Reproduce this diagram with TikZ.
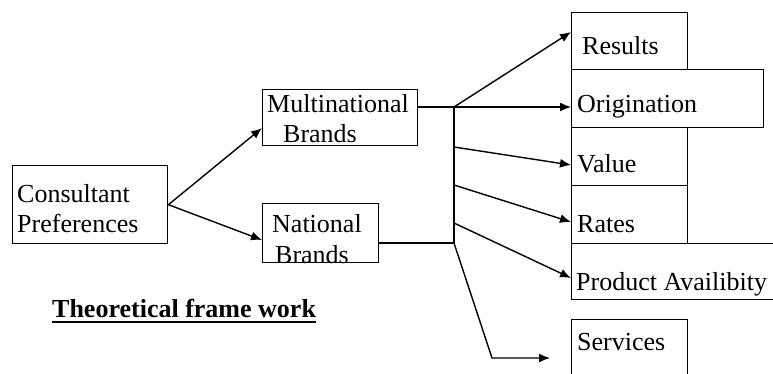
\documentclass[tikz,border=0pt]{standalone}
\usepackage{fontspec}
\setmainfont{Liberation Serif}
\usetikzlibrary{arrows.meta}
\begin{document}
\begin{tikzpicture}[x=1pt,y=-1pt,
  box/.style={draw, line width=1.4pt, inner sep=0pt, anchor=north west},
  lbl/.style={anchor=base west, inner sep=0pt, font=\fontsize{26}{30}\selectfont},
  conn/.style={line width=1.4pt},
  arr/.style={conn, -{Latex[length=11pt,width=9pt]}}]
\useasboundingbox (0,0) rectangle (773,374);
% boxes
\node[box, minimum width=155pt, minimum height=78pt] (cp) at (12,165) {};
\node[box, minimum width=155pt, minimum height=56pt] (mn) at (262,89) {};
\node[box, minimum width=116pt, minimum height=59pt] (nb) at (262,203) {};
\node[box, minimum width=116pt, minimum height=57pt] (res) at (571,12) {};
\node[box, minimum width=192pt, minimum height=58pt] (orig) at (571,69) {};
\node[box, minimum width=116pt, minimum height=58pt] (val) at (571,127) {};
\node[box, minimum width=116pt, minimum height=58pt] (rat) at (571,185) {};
\node[box, minimum width=206pt, minimum height=56pt] (prod) at (571,243) {};
\node[box, minimum width=116pt, minimum height=62pt] (serv) at (571,319) {};
% labels
\node[lbl] (t1) at (17,203) {Consultant};
\node[lbl] (t2) at (17,232) {Preferences};
\node[lbl] (t3) at (267,113) {Multinational};
\node[lbl] (t4) at (283,143) {Brands};
\node[lbl] (t5) at (272,232) {National};
\node[lbl] (t6) at (275,263) {Brands};
\node[lbl] (t7) at (582,55) {Results};
\node[lbl] (t8) at (577,113) {Origination};
\node[lbl] (t9) at (577,173) {Value};
\node[lbl] (t10) at (577,232) {Rates};
\node[lbl] (t11) at (576,290) {Product Availibity};
\node[lbl] (t12) at (577,350) {Services};
\node[lbl, font=\fontsize{26}{30}\selectfont\bfseries] (title) at (52,317) {Theoretical frame work};
\draw[line width=1.6pt] ([yshift=-5pt]title.base west) -- ([yshift=-5pt]title.base east);
% junctions
\coordinate (j1) at (454,107);
\coordinate (j2) at (454,243);
\coordinate (j3) at (454,147);
\coordinate (j4) at (454,185);
\coordinate (j5) at (454,223);
\coordinate (kink) at (492,358);
\coordinate (svtip) at (550,358);
% connectors
\draw[arr] (cp.east) -- (mn.west |- 0,128);
\draw[arr] (cp.east) -- (nb.west |- 0,240);
\draw[conn] (mn.east |- 0,107) -- (j1);
\draw[conn] (nb.east |- 0,243) -- (j2);
\draw[conn] (j1) -- (j2);
\draw[arr] (j1) -- (res.west |- 0,32);
\draw[arr] (j1) -- (orig.west |- 0,107);
\draw[arr] (j3) -- (val.west |- 0,165);
\draw[arr] (j4) -- (rat.west |- 0,222);
\draw[arr] (j5) -- (prod.west |- 0,278);
\draw[arr] (j2) -- (kink) -- (svtip);
\end{tikzpicture}
\end{document}
